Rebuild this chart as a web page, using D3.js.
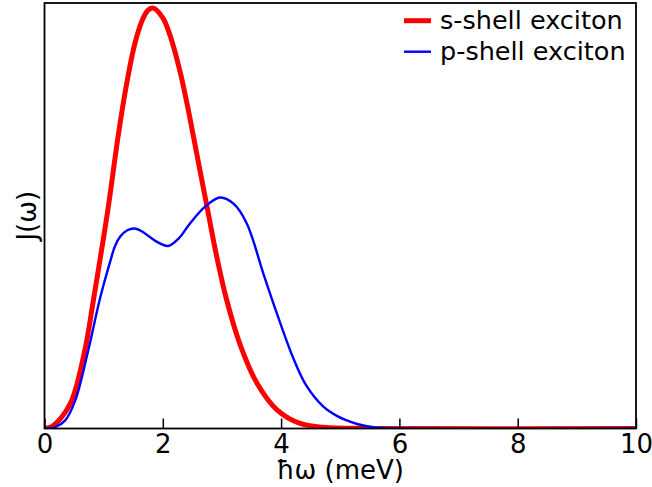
<!DOCTYPE html>
<html>
<head>
<meta charset="utf-8">
<script src="https://cdn.jsdelivr.net/npm/d3@7"></script>
<style>
  html, body { margin: 0; padding: 0; background: #fff; }
  svg { display: block; font-family: "DejaVu Sans", sans-serif; }
</style>
</head>
<body>
<svg id="chart" width="652" height="487"></svg>
<script>
// Phonon spectral density J(ω) of the two exciton shells, sampled in meV
const sShellEnergy = [0, 0.12, 0.25, 0.46, 0.685, 0.825, 1.0, 1.08, 1.25, 1.39, 1.53, 1.67, 1.76, 1.84, 2.0, 2.12, 2.29, 2.40, 2.52, 2.64, 2.77, 2.91, 3.08, 3.31, 3.59, 3.93, 4.32, 4.71, 5.5, 10];
const sShellJ = [0, 0.004, 0.02, 0.066, 0.186, 0.300, 0.450, 0.522, 0.692, 0.811, 0.906, 0.965, 0.984, 0.988, 0.965, 0.925, 0.840, 0.770, 0.685, 0.598, 0.505, 0.405, 0.302, 0.196, 0.107, 0.044, 0.012, 0.003, 0, 0];

const pShellEnergy = [0, 0.18, 0.35, 0.52, 0.74, 0.93, 1.11, 1.19, 1.28, 1.40, 1.52, 1.65, 1.78, 1.95, 2.09, 2.27, 2.46, 2.72, 2.97, 3.20, 3.42, 3.70, 3.93, 4.21, 4.43, 4.71, 4.95, 5.11, 5.30, 5.56, 6.0, 10];
const pShellJ = [0, 0.003, 0.019, 0.066, 0.184, 0.301, 0.392, 0.428, 0.451, 0.466, 0.470, 0.463, 0.450, 0.435, 0.429, 0.447, 0.482, 0.522, 0.543, 0.528, 0.482, 0.364, 0.270, 0.164, 0.100, 0.052, 0.029, 0.019, 0.010, 0.003, 0, 0];

const seriesNames = ["s-shell exciton", "p-shell exciton"];
const seriesColors = ["#ff0000", "#0000ff"];
const seriesWidths = [5, 2.4];

const xTicks = [0, 2, 4, 6, 8, 10];

const svg = d3.select("#chart");
const margin = { left: 44.5, right: 16, top: 3, bottom: 58.5 };
const W = 652, H = 487;
const x0 = margin.left, x1 = W - margin.right;
const y0 = H - margin.bottom, y1 = margin.top;

const x = d3.scaleLinear().domain([0, 10]).range([x0, x1]);
const y = d3.scaleLinear().domain([0, 1]).range([y0, y1]);

const series = [
  { name: seriesNames[0], xs: sShellEnergy, ys: sShellJ, color: seriesColors[0], width: seriesWidths[0] },
  { name: seriesNames[1], xs: pShellEnergy, ys: pShellJ, color: seriesColors[1], width: seriesWidths[1] }
];

svg.append("clipPath").attr("id", "plotclip")
  .append("rect").attr("x", x0).attr("y", y1).attr("width", x1 - x0).attr("height", y0 - y1);

const line = d3.line()
  .x(d => x(d[0]))
  .y(d => Math.min(y0, y(d[1])))
  .curve(d3.curveCatmullRom.alpha(0.5));

const plot = svg.append("g").attr("clip-path", "url(#plotclip)");
series.forEach(s => {
  plot.append("path")
    .datum(s.xs.map((v, i) => [v, s.ys[i]]))
    .attr("fill", "none")
    .attr("stroke", s.color)
    .attr("stroke-width", s.width)
    .attr("stroke-linejoin", "round")
    .attr("d", line);
});

// Bottom axis: inward ticks, labels below
const xAxis = d3.axisBottom(x).tickValues(xTicks).tickSizeInner(-10).tickSizeOuter(0).tickPadding(6)
  .tickFormat(d3.format("d"));
const gx = svg.append("g").attr("transform", `translate(0,${y0})`).call(xAxis);
gx.select(".domain").remove();
gx.selectAll(".tick line").attr("stroke", "#000").attr("stroke-width", 1.5);
gx.selectAll(".tick text").attr("font-size", 26).attr("fill", "#000")
  .attr("font-family", "DejaVu Sans, sans-serif");

// Frame
svg.append("rect")
  .attr("x", x0).attr("y", y1).attr("width", x1 - x0).attr("height", y0 - y1)
  .attr("fill", "none").attr("stroke", "#000").attr("stroke-width", 1.8);

// Axis titles
svg.append("text")
  .attr("x", (x0 + x1) / 2).attr("y", 478.5)
  .attr("text-anchor", "middle").attr("font-size", 26).attr("fill", "#000")
  .text("ħω (meV)");

svg.append("text")
  .attr("transform", `translate(35.5,${(y0 + y1) / 2}) rotate(-90)`)
  .attr("text-anchor", "middle").attr("font-size", 26).attr("fill", "#000")
  .text("J(ω)");

// Legend
const legend = svg.append("g");
series.forEach((s, i) => {
  const ly = 20.7 + i * 31;
  legend.append("line")
    .attr("x1", 404).attr("x2", 431).attr("y1", ly).attr("y2", ly)
    .attr("stroke", s.color).attr("stroke-width", s.width);
  legend.append("text")
    .attr("x", 440).attr("y", ly + 8.5)
    .attr("font-size", 25.5).attr("fill", "#000")
    .text(s.name);
});
</script>
</body>
</html>
